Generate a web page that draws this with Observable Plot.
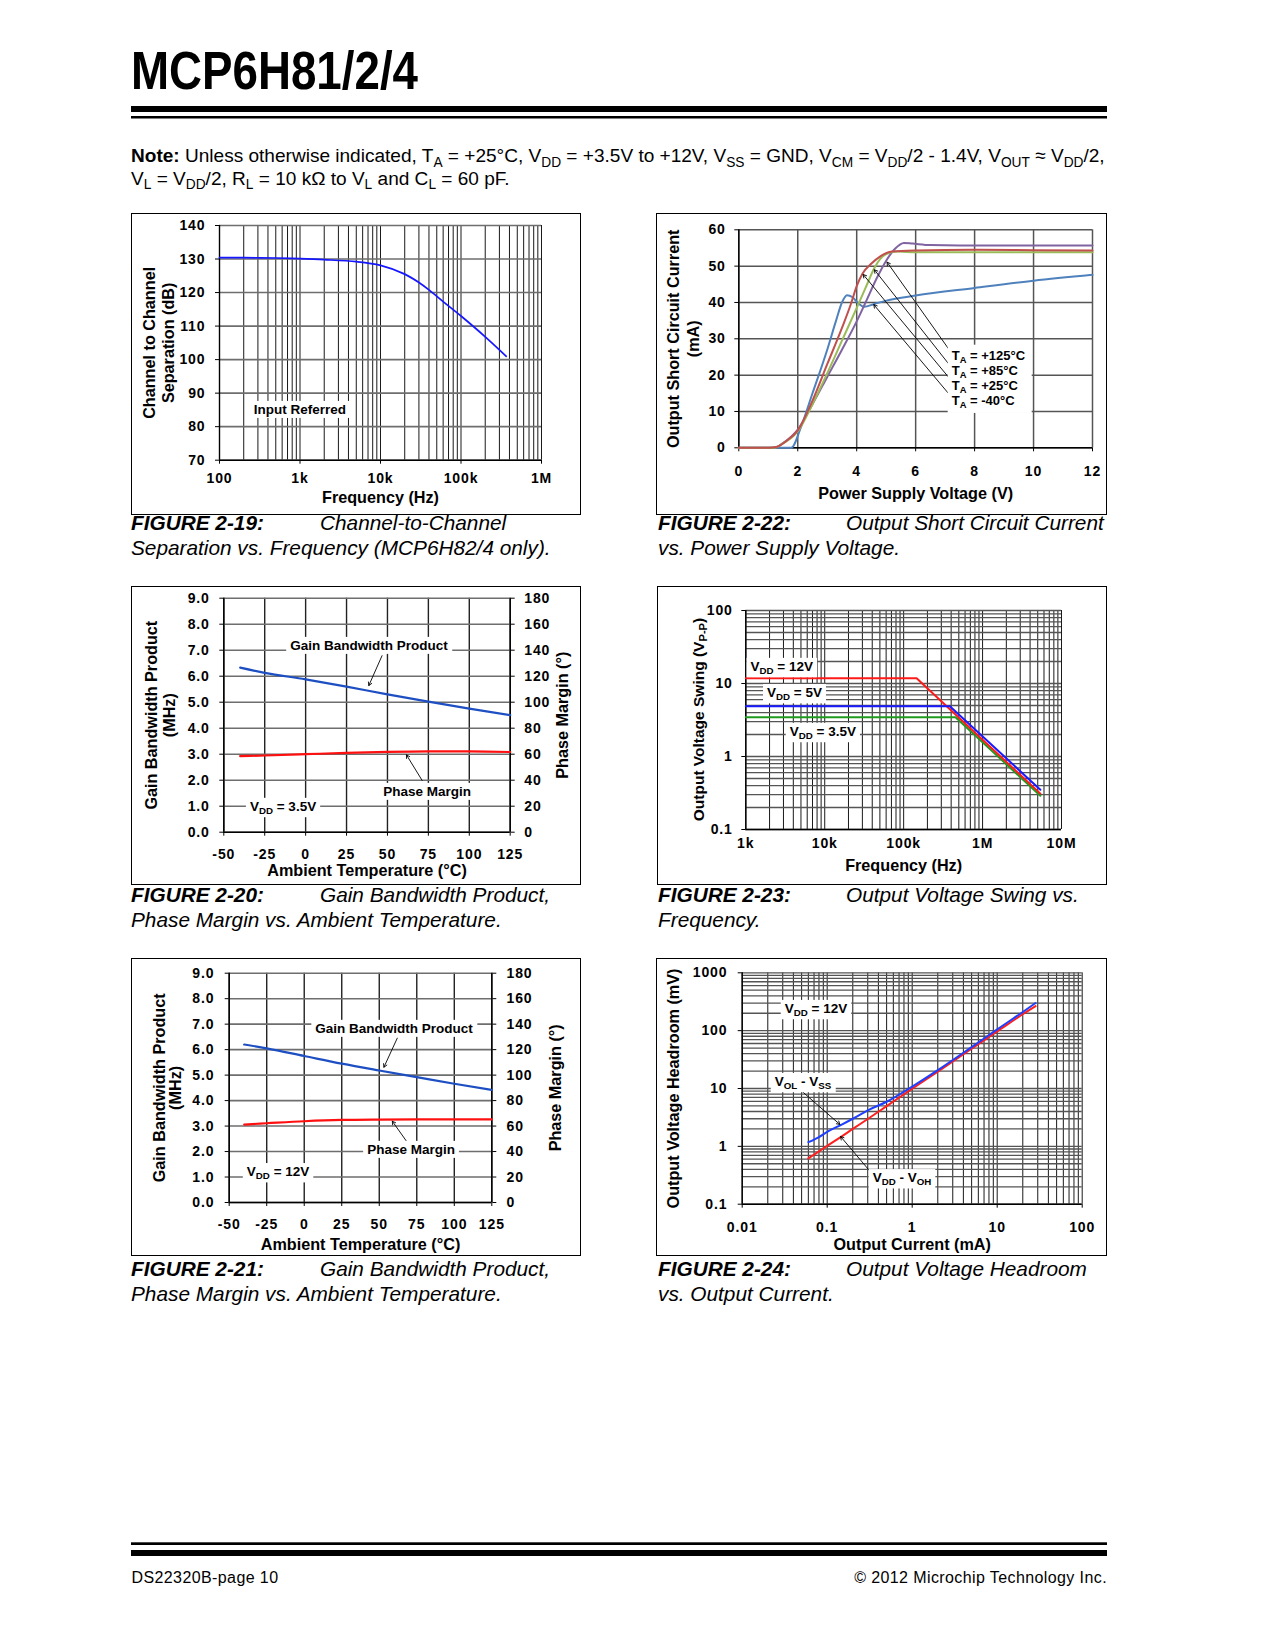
<!DOCTYPE html>
<html>
<head>
<meta charset="utf-8">
<script src="https://cdn.jsdelivr.net/npm/d3@7"></script>
<script src="https://cdn.jsdelivr.net/npm/@observablehq/plot@0.6"></script>
<style>
html,body{margin:0;padding:0;background:#fff;}
#page{position:relative;width:1275px;height:1650px;overflow:hidden;background:#fff;}
.chart{position:absolute;}
.chart svg{position:absolute;left:0;top:0;}
.frame{position:absolute;left:0;top:0;right:0;bottom:0;border:1px solid #000;box-sizing:border-box;pointer-events:none;}
#pagesvg{position:absolute;left:0;top:0;}
text{white-space:pre;}
.chart g[aria-label$="tick label"] text{letter-spacing:0.9px;}
</style>
</head>
<body>
<div id="page"><svg id="pagesvg" width="1275" height="1650"></svg></div>
<script>
// ================= DATA =================
// FIGURE 2-19: Channel-to-Channel Separation vs Frequency
const sepFreq = [100, 200, 500, 1000, 2000, 5000, 10000, 20000, 30000, 40000, 60000, 100000, 200000, 365000];
const sepDb   = [130.4, 130.4, 130.3, 130.1, 129.8, 129.2, 128.1, 125.5, 123.0, 120.8, 117.3, 113.0, 106.8, 101.0];
const sepXTicks  = [100, 1000, 10000, 100000, 1000000];
const sepXLabels = ["100", "1k", "10k", "100k", "1M"];
const sepYTicks  = [70, 80, 90, 100, 110, 120, 130, 140];

// FIGURE 2-22: Output Short Circuit Current vs Power Supply Voltage
const scM40V  = [0, 1.78, 2.1, 2.5, 3.0, 3.3, 3.5, 3.67, 3.85, 4.05, 4.25, 4.6, 5.0, 6, 8, 10, 12];
const scM40I  = [0, 0, 5.5, 15, 27, 35, 40, 42, 41.5, 39.8, 38.8, 39.6, 40.5, 41.9, 44, 46, 47.6];
const sc25V   = [0, 1.0, 1.3, 1.6, 2.0, 2.5, 3.0, 3.5, 3.8, 4.0, 4.2, 4.5, 4.8, 5.2, 6, 8, 10, 12];
const sc25I   = [0, 0, 0.3, 1.8, 4.8, 13, 23, 33, 39.5, 44.5, 48, 50.7, 52.7, 54, 54.3, 54.5, 54.4, 54.3];
const sc85V   = [0, 1.2, 1.5, 2.0, 2.5, 3.0, 3.5, 4.0, 4.3, 4.6, 4.8, 5.0, 5.4, 6, 8, 10, 12];
const sc85I   = [0, 0, 1.2, 4.5, 12, 20.5, 29.5, 38.5, 44, 49.5, 52, 53.3, 54, 53.8, 53.8, 53.8, 53.8];
const sc125V  = [0, 1.2, 1.5, 2.0, 2.5, 3.0, 3.5, 4.0, 4.3, 4.7, 5.0, 5.3, 5.6, 5.9, 6.5, 8, 10, 12];
const sc125I  = [0, 0, 1.3, 5, 12, 19.5, 27, 34.8, 40, 47, 51.5, 54.8, 56.4, 56.2, 55.8, 55.7, 55.7, 55.7];
const scXTicks = [0, 2, 4, 6, 8, 10, 12];
const scYTicks = [0, 10, 20, 30, 40, 50, 60];
const scLegend = ["+125°C", "+85°C", "+25°C", "-40°C"];

// FIGURE 2-20 / 2-21: GBWP & Phase Margin vs Temperature
const tempC  = [-40, -25, 0, 25, 50, 75, 100, 125];
const gbw35  = [6.33, 6.13, 5.88, 5.6, 5.3, 5.02, 4.75, 4.5];
const pm35   = [58.5, 59, 60, 61, 61.8, 62.2, 62.2, 61.7];
const gbw12  = [6.2, 6.05, 5.75, 5.45, 5.18, 4.92, 4.66, 4.42];
const pm12   = [61.2, 62.2, 63.8, 64.8, 65.1, 65.2, 65.2, 65.2];
const tempTicks = [-50, -25, 0, 25, 50, 75, 100, 125];
const gbwTicks  = [0, 1, 2, 3, 4, 5, 6, 7, 8, 9];
const pmTicks   = [0, 20, 40, 60, 80, 100, 120, 140, 160, 180];

// FIGURE 2-23: Output Voltage Swing vs Frequency
const swF12 = [1e3, 1.46e5, 5.4e6], swV12 = [11.8, 11.8, 0.31];
const swF5  = [1e3, 3.85e5, 5.4e6], swV5  = [4.89, 4.89, 0.35];
const swF35 = [1e3, 4.54e5, 5.4e6], swV35 = [3.46, 3.46, 0.29];
const swXTicks  = [1e3, 1e4, 1e5, 1e6, 1e7];
const swXLabels = ["1k", "10k", "100k", "1M", "10M"];
const swYTicks  = [0.1, 1, 10, 100];
const swYLabels = ["0.1", "1", "10", "100"];

// FIGURE 2-24: Output Voltage Headroom vs Output Current
const hrI   = [0.06, 0.08, 0.1, 0.15, 0.2, 0.3, 0.5, 1, 2, 5, 10, 20, 28.3];
const hrVol = [1.18, 1.45, 1.78, 2.4, 3.0, 4.2, 5.9, 10.8, 20.8, 52, 105, 210, 300];
const hrVoh = [0.62, 0.82, 1.02, 1.5, 2.0, 2.97, 4.95, 9.9, 19.6, 49, 97, 192, 265];
const hrXTicks  = [0.01, 0.1, 1, 10, 100];
const hrXLabels = ["0.01", "0.1", "1", "10", "100"];
const hrYTicks  = [0.1, 1, 10, 100, 1000];
const hrYLabels = ["0.1", "1", "10", "100", "1000"];

// annotation anchors (data space)
const ann19 = {x: 1014, y: 85.1};
const ann22 = {x: 7.24, y: 25.4};
const ann22Arrows = [{x1:7.12,y1:27.2,x2:5.03,y2:51.1},{x1:7.12,y1:23.1,x2:4.6,y2:49.0},{x1:7.12,y1:19.4,x2:4.22,y2:47.7},{x1:7.12,y1:14.9,x2:4.58,y2:39.4}];
const ann20 = {gbw:{x:39,y:7.18}, pm:{x:74.5,y:1.565}, vdd:{x:-13.5,y:0.99}};
const ann20Arrows = [{x1:46.7,y1:6.79,x2:38.6,y2:5.64},{x1:71.2,y1:1.99,x2:61.6,y2:2.975}];
const ann21 = {gbw:{x:60.2,y:6.83}, pm:{x:71.5,y:2.08}, vdd:{x:-17.1,y:1.21}};
const ann21Arrows = [{x1:62,y1:6.45,x2:53.1,y2:5.31},{x1:68.7,y1:2.36,x2:58.7,y2:3.19}];
const ann23 = [{x:2900,y:17.1,v:"12V"},{x:4200,y:7.5,v:"5V"},{x:9600,y:2.2,v:"3.5V"}];
const ann24 = {vdd:{x:0.0748,y:241}, vol:{x:0.0526,y:13.2}, voh:{x:0.769,y:0.287}};
const ann24Arrows = [{x1:0.0508,y1:8.87,x2:0.141,y2:2.39},{x1:0.338,y1:0.335,x2:0.1437,y2:1.48}];

// ================= STYLE / HELPERS =================
const FONT = "'Liberation Sans', Arial, Helvetica, sans-serif";
const TICK = 14, TITLE = 16.2, LBL = 13.5;
const ST = {fontFamily: FONT, fontSize: TICK + "px", fontWeight: "bold", color: "#000", background: "none", overflow: "visible"};
const GV = {stroke: "#1a1a1a", strokeOpacity: 1, strokeWidth: 1};
const GH = {stroke: "#6e6e6e", strokeOpacity: 1, strokeWidth: 1.6};
const AX = {stroke: "#000", strokeWidth: 1.4};
const ARW = {x1:"x1", y1:"y1", x2:"x2", y2:"y2", stroke:"#000", strokeWidth:0.9, headLength:6};
const XT = {text: d => d, frameAnchor: "bottom", textAnchor: "middle", lineAnchor: "middle", fontSize: TITLE};
const YT = {text: d => d, rotate: -90, textAnchor: "middle", lineAnchor: "middle", fontSize: TITLE};
const page = document.getElementById("page");
const psvg = document.getElementById("pagesvg");

function logGrid(e0, e1) {
  const out = [];
  for (let e = e0; e < e1; e++) for (let k = 1; k <= 9; k++) out.push(k * Math.pow(10, e));
  out.push(Math.pow(10, e1));
  return out;
}
function dims(box, area) {
  return {width: box.r - box.l, height: box.b - box.t,
    marginLeft: area.x1 - box.l, marginRight: box.r - area.x2,
    marginTop: area.y1 - box.t, marginBottom: box.b - area.y2};
}
function mount(svg, box) {
  const div = document.createElement("div");
  div.className = "chart";
  Object.assign(div.style, {left: box.l + "px", top: box.t + "px", width: (box.r - box.l) + "px", height: (box.b - box.t) + "px"});
  div.appendChild(svg);
  const fr = document.createElement("div"); fr.className = "frame"; div.appendChild(fr);
  page.appendChild(div);
}
function zipXY(xs, ys) { return xs.map((x, i) => ({x, y: ys[i]})); }
function addParts(t, parts, size) {
  let prevSub = false;
  for (const p of parts) {
    const o = typeof p === "string" ? {t: p} : p;
    const ts = t.append("tspan").text(o.t);
    if (o.b) ts.style("font-weight", "bold");
    if (o.i) ts.style("font-style", "italic");
    if (o.sub) { ts.style("font-size", (size * 0.72) + "px"); if (!prevSub) ts.attr("dy", size * 0.25); }
    else if (prevSub) ts.attr("dy", -size * 0.25);
    prevSub = !!o.sub;
  }
}
function rich(svg, x, y, parts, o = {}) {
  const size = o.size || LBL;
  const g = d3.select(svg).append("g").attr("transform", `translate(${x},${y})` + (o.rotate ? ` rotate(${o.rotate})` : ""));
  const t = g.append("text").attr("text-anchor", o.anchor || "middle").attr("y", size * 0.36)
    .attr("fill", "#000").style("font-family", FONT).style("font-size", size + "px").style("font-weight", "bold");
  addParts(t, parts, size);
  if (o.bg !== false) {
    const bb = t.node().getBBox();
    g.insert("rect", "text").attr("x", bb.x - 4).attr("y", bb.y - 1).attr("width", bb.width + 8).attr("height", bb.height + 2).attr("fill", "#fff");
  }
  return g;
}
function richLines(svg, x, y, step, lines, o = {}) {
  const size = o.size || LBL;
  const g = d3.select(svg).append("g").attr("transform", `translate(${x},${y})`);
  lines.forEach((parts, i) => {
    const t = g.append("text").attr("text-anchor", "start").attr("y", i * step + size * 0.36)
      .attr("fill", "#000").style("font-family", FONT).style("font-size", size + "px").style("font-weight", "bold");
    addParts(t, parts, size);
  });
  const bb = g.node().getBBox();
  g.insert("rect", "text").attr("x", bb.x - 4).attr("y", bb.y - 3).attr("width", bb.width + 10).attr("height", bb.height + 6).attr("fill", "#fff");
}
function ptext(x, y, parts, o = {}) {
  const t = d3.select(psvg).append("text").attr("x", x).attr("y", y).attr("text-anchor", o.anchor || "start")
    .attr("fill", "#000").style("font-family", o.family || FONT).style("font-size", o.size + "px")
    .style("font-weight", o.weight || "normal").style("font-style", o.italic ? "italic" : "normal");
  if (o.ls) t.style("letter-spacing", o.ls + "px");
  addParts(t, parts, o.size);
  return t;
}
function P(p, x, y) { return [p.scale("x").apply(x), p.scale("y").apply(y)]; }
const fmtFrom = (ticks, labels) => d => labels[ticks.findIndex(t => Math.abs(t - d) < 1e-9 * Math.max(1, t))];
const vdd = v => ["V", {t: "DD", sub: true}, " = " + v];

// ================= PAGE TEXT =================
ptext(131, 88.6, ["MCP6H81/2/4"], {size: 53, weight: "bold", family: "'Liberation Sans Narrow', 'Liberation Sans', Arial, sans-serif"})
  .attr("textLength", 287).attr("lengthAdjust", "spacingAndGlyphs");
d3.select(psvg).append("rect").attr("x", 131).attr("y", 106).attr("width", 976).attr("height", 6).attr("fill", "#000");
d3.select(psvg).append("rect").attr("x", 131).attr("y", 116).attr("width", 976).attr("height", 2.5).attr("fill", "#000");
d3.select(psvg).append("rect").attr("x", 131).attr("y", 1542.3).attr("width", 976).attr("height", 2.7).attr("fill", "#000");
d3.select(psvg).append("rect").attr("x", 131).attr("y", 1550).attr("width", 976).attr("height", 6).attr("fill", "#000");

const note1 = [{t: "Note:", b: true}, " Unless otherwise indicated, T", {t: "A", sub: true}, " = +25°C, V", {t: "DD", sub: true},
  " = +3.5V to +12V, V", {t: "SS", sub: true}, " = GND, V", {t: "CM", sub: true}, " = V", {t: "DD", sub: true},
  "/2 - 1.4V, V", {t: "OUT", sub: true}, " ≈ V", {t: "DD", sub: true}, "/2,"];
const note2 = ["V", {t: "L", sub: true}, " = V", {t: "DD", sub: true}, "/2, R", {t: "L", sub: true}, " = 10 kΩ to V", {t: "L", sub: true},
  " and C", {t: "L", sub: true}, " = 60 pF."];
{
  const probe = ptext(131, 162, note1, {size: 17.5});
  const w = probe.node().getComputedTextLength();
  probe.remove();
  const s = 17.5 * 974 / w;
  ptext(131, 162, note1, {size: s});
  ptext(131, 184.5, note2, {size: s});
}

function caption(x, tx, base, fig, l1, l2) {
  ptext(x, base, [fig], {size: 20.8, weight: "bold", italic: true});
  ptext(tx, base, [l1], {size: 20.8, italic: true});
  ptext(x, base + 25, [l2], {size: 20.8, italic: true});
}
caption(131, 320, 530, "FIGURE 2-19:", "Channel-to-Channel", "Separation vs. Frequency (MCP6H82/4 only).");
caption(658, 846, 530, "FIGURE 2-22:", "Output Short Circuit Current", "vs. Power Supply Voltage.");
caption(131, 320, 902, "FIGURE 2-20:", "Gain Bandwidth Product,", "Phase Margin vs. Ambient Temperature.");
caption(658, 846, 902, "FIGURE 2-23:", "Output Voltage Swing vs.", "Frequency.");
caption(131, 320, 1276, "FIGURE 2-21:", "Gain Bandwidth Product,", "Phase Margin vs. Ambient Temperature.");
caption(658, 846, 1276, "FIGURE 2-24:", "Output Voltage Headroom", "vs. Output Current.");

ptext(131.5, 1583, ["DS22320B-page 10"], {size: 16, ls: 0.4});
ptext(1107, 1583, ["© 2012 Microchip Technology Inc."], {size: 16, ls: 0.4, anchor: "end"});

// ================= FIGURE 2-19 =================
{
  const box = {l:131, t:213, r:581, b:515}, area = {x1:219, x2:541, y1:225, y2:459.7};
  const p = Plot.plot({
    ...dims(box, area), style: ST,
    x: {type: "log", domain: [100, 1e6]},
    y: {domain: [70, 140]},
    marks: [
      Plot.gridX({ticks: logGrid(2, 6), ...GV}),
      Plot.gridY({ticks: sepYTicks, ...GH}),
      Plot.ruleX([100], AX), Plot.ruleY([70], AX),
      Plot.axisX({ticks: sepXTicks, tickFormat: fmtFrom(sepXTicks, sepXLabels), tickSize: 4, tickPadding: 9, label: null}),
      Plot.axisY({ticks: sepYTicks, tickSize: 4, tickPadding: 10, label: null}),
      Plot.line(zipXY(sepFreq, sepDb), {x: "x", y: "y", stroke: "#1616ff", strokeWidth: 1.7, curve: "catmull-rom"}),
      Plot.text(["Frequency (Hz)"], {...XT, dy: 38}),
      Plot.text(["Channel to Channel\nSeparation (dB)"], {...YT, frameAnchor: "left", dx: -61.5, lineHeight: 1.2})
    ]
  });
  mount(p, box);
  rich(p, ...P(p, ann19.x, ann19.y), ["Input Referred"]);
}

// ================= FIGURE 2-22 =================
{
  const box = {l:656, t:213, r:1107, b:515}, area = {x1:738.3, x2:1092, y1:229.3, y2:447.3};
  const G2 = {stroke: "#555", strokeOpacity: 1, strokeWidth: 1.5};
  const p = Plot.plot({
    ...dims(box, area), style: ST,
    x: {domain: [0, 12]},
    y: {domain: [0, 60]},
    marks: [
      Plot.gridX({ticks: scXTicks, ...G2}),
      Plot.gridY({ticks: scYTicks, ...G2}),
      Plot.ruleX([0], AX), Plot.ruleY([0], AX),
      Plot.axisX({ticks: scXTicks, tickSize: 4, tickPadding: 14.4, label: null}),
      Plot.axisY({ticks: scYTicks, tickSize: 4, tickPadding: 9, label: null}),
      Plot.line(zipXY(scM40V, scM40I), {x: "x", y: "y", stroke: "#4f81bd", strokeWidth: 2, curve: "monotone-x"}),
      Plot.line(zipXY(sc125V, sc125I), {x: "x", y: "y", stroke: "#8064a2", strokeWidth: 2, curve: "monotone-x"}),
      Plot.line(zipXY(sc85V, sc85I), {x: "x", y: "y", stroke: "#9bbb59", strokeWidth: 2, curve: "monotone-x"}),
      Plot.line(zipXY(sc25V, sc25I), {x: "x", y: "y", stroke: "#c0504d", strokeWidth: 2, curve: "monotone-x"}),
      Plot.arrow(ann22Arrows, ARW),
      Plot.text(["Power Supply Voltage (V)"], {...XT, dy: 46}),
      Plot.text(["Output Short Circuit Current\n(mA)"], {...YT, frameAnchor: "left", dx: -56, lineHeight: 1.25})
    ]
  });
  mount(p, box);
  const [lx, ly] = P(p, ann22.x, ann22.y);
  richLines(p, lx, ly, 15, scLegend.map(s => ["T", {t: "A", sub: true}, " = " + s]), {size: 13});
}

// ================= FIGURE 2-20 / 2-21 =================
function gbwChart(box, area, gbw, pm, ann, arrows, vddTxt, t) {
  const dG = tempC.map((x, i) => ({x, y: gbw[i]}));
  const dP = tempC.map((x, i) => ({x, y: pm[i] / 20}));   // PM shares the left scale (180° = 9.0)
  const GV2 = {stroke: "#222", strokeOpacity: 1, strokeWidth: 1.4};
  const p = Plot.plot({
    ...dims(box, area), style: ST,
    x: {domain: [-50, 125]},
    y: {domain: [0, 9]},
    marks: [
      Plot.gridX({ticks: tempTicks, ...GV2}),
      Plot.gridY({ticks: gbwTicks, ...GH}),
      Plot.ruleX([-50], AX), Plot.ruleX([125], AX), Plot.ruleY([0], AX),
      Plot.axisX({ticks: tempTicks, tickFormat: d => String(d), tickSize: 4, tickPadding: t.xpad, label: null}),
      Plot.axisY({ticks: gbwTicks, tickFormat: d3.format(".1f"), tickSize: 4, tickPadding: t.ypad, label: null}),
      Plot.axisY({ticks: gbwTicks, anchor: "right", tickFormat: fmtFrom(gbwTicks, pmTicks), tickSize: 4, tickPadding: t.ypad, label: null}),
      Plot.line(dP, {x: "x", y: "y", stroke: "#ff1010", strokeWidth: 2.2, curve: "monotone-x"}),
      Plot.line(dG, {x: "x", y: "y", stroke: "#1d4fc2", strokeWidth: 2.2, curve: "monotone-x"}),
      Plot.arrow(arrows, ARW),
      Plot.text(["Ambient Temperature (°C)"], {...XT, dy: t.xt}),
      Plot.text(["Gain Bandwidth Product\n(MHz)"], {...YT, frameAnchor: "left", dx: t.yl, lineHeight: t.lh}),
      Plot.text(["Phase Margin (°)"], {...YT, frameAnchor: "right", dx: t.yr})
    ]
  });
  mount(p, box);
  rich(p, ...P(p, ann.gbw.x, ann.gbw.y), ["Gain Bandwidth Product"]);
  rich(p, ...P(p, ann.pm.x, ann.pm.y), ["Phase Margin"]);
  rich(p, ...P(p, ann.vdd.x, ann.vdd.y), vdd(vddTxt));
}
gbwChart({l:131, t:586, r:581, b:885}, {x1:223.3, x2:509.7, y1:597.7, y2:831.7}, gbw35, pm35, ann20, ann20Arrows, "3.5V",
  {xpad: 12.5, ypad: 10, xt: 39, yl: -64, yr: 53, lh: 1.12});
gbwChart({l:131, t:958, r:581, b:1256}, {x1:228.7, x2:491.3, y1:972.7, y2:1202}, gbw12, pm12, ann21, ann21Arrows, "12V",
  {xpad: 13, ypad: 10.7, xt: 42, yl: -61.7, yr: 63.7, lh: 1.02});

// ================= FIGURE 2-23 =================
{
  const box = {l:657, t:586, r:1107, b:885}, area = {x1:745.3, x2:1061, y1:610, y2:829};
  const p = Plot.plot({
    ...dims(box, area), style: ST,
    x: {type: "log", domain: [1e3, 1e7]},
    y: {type: "log", domain: [0.1, 100]},
    marks: [
      Plot.gridX({ticks: logGrid(3, 7), ...GV}),
      Plot.gridY({ticks: logGrid(-1, 2), ...GH, stroke: "#555", strokeWidth: 1.3}),
      Plot.ruleX([1e3], AX), Plot.ruleY([0.1], AX),
      Plot.axisX({ticks: swXTicks, tickFormat: fmtFrom(swXTicks, swXLabels), tickSize: 0, tickPadding: 9, label: null}),
      Plot.axisY({ticks: swYTicks, tickFormat: fmtFrom(swYTicks, swYLabels), tickSize: 4, tickPadding: 9, label: null}),
      Plot.line(zipXY(swF35, swV35), {x: "x", y: "y", stroke: "#1f9a1f", strokeWidth: 2}),
      Plot.line(zipXY(swF12, swV12), {x: "x", y: "y", stroke: "#ff1a1a", strokeWidth: 2}),
      Plot.line(zipXY(swF5, swV5), {x: "x", y: "y", stroke: "#1a1aff", strokeWidth: 2}),
      Plot.text(["Frequency (Hz)"], {...XT, dy: 36})
    ]
  });
  mount(p, box);
  for (const a of ann23) rich(p, ...P(p, a.x, a.y), vdd(a.v));
  rich(p, 698 - box.l, (area.y1 + area.y2) / 2 - box.t, ["Output Voltage Swing (V", {t: "P-P", sub: true}, ")"], {size: 15.5, rotate: -90, bg: false});
}

// ================= FIGURE 2-24 =================
{
  const box = {l:656, t:958, r:1107, b:1256}, area = {x1:741.7, x2:1081.7, y1:972.3, y2:1203.7};
  const p = Plot.plot({
    ...dims(box, area), style: ST,
    x: {type: "log", domain: [0.01, 100]},
    y: {type: "log", domain: [0.1, 1000]},
    marks: [
      Plot.gridX({ticks: logGrid(-2, 2), ...GV}),
      Plot.gridY({ticks: logGrid(-1, 3), ...GH, stroke: "#555", strokeWidth: 1.3}),
      Plot.ruleX([0.01], AX), Plot.ruleY([0.1], AX),
      Plot.axisX({ticks: hrXTicks, tickFormat: fmtFrom(hrXTicks, hrXLabels), tickSize: 4, tickPadding: 14, label: null}),
      Plot.axisY({ticks: hrYTicks, tickFormat: fmtFrom(hrYTicks, hrYLabels), tickSize: 4, tickPadding: 10.7, label: null}),
      Plot.line(zipXY(hrI, hrVoh), {x: "x", y: "y", stroke: "#ff1f1f", strokeWidth: 2, curve: "monotone-x"}),
      Plot.line(zipXY(hrI, hrVol), {x: "x", y: "y", stroke: "#1f3fff", strokeWidth: 2, curve: "monotone-x"}),
      Plot.arrow(ann24Arrows, ARW),
      Plot.text(["Output Current (mA)"], {...XT, dy: 41}),
      Plot.text(["Output Voltage Headroom (mV)"], {...YT, frameAnchor: "left", dx: -68.7})
    ]
  });
  mount(p, box);
  rich(p, ...P(p, ann24.vdd.x, ann24.vdd.y), vdd("12V"));
  rich(p, ...P(p, ann24.vol.x, ann24.vol.y), ["V", {t: "OL", sub: true}, " - V", {t: "SS", sub: true}]);
  rich(p, ...P(p, ann24.voh.x, ann24.voh.y), ["V", {t: "DD", sub: true}, " - V", {t: "OH", sub: true}]);
}
</script>
</body>
</html>
